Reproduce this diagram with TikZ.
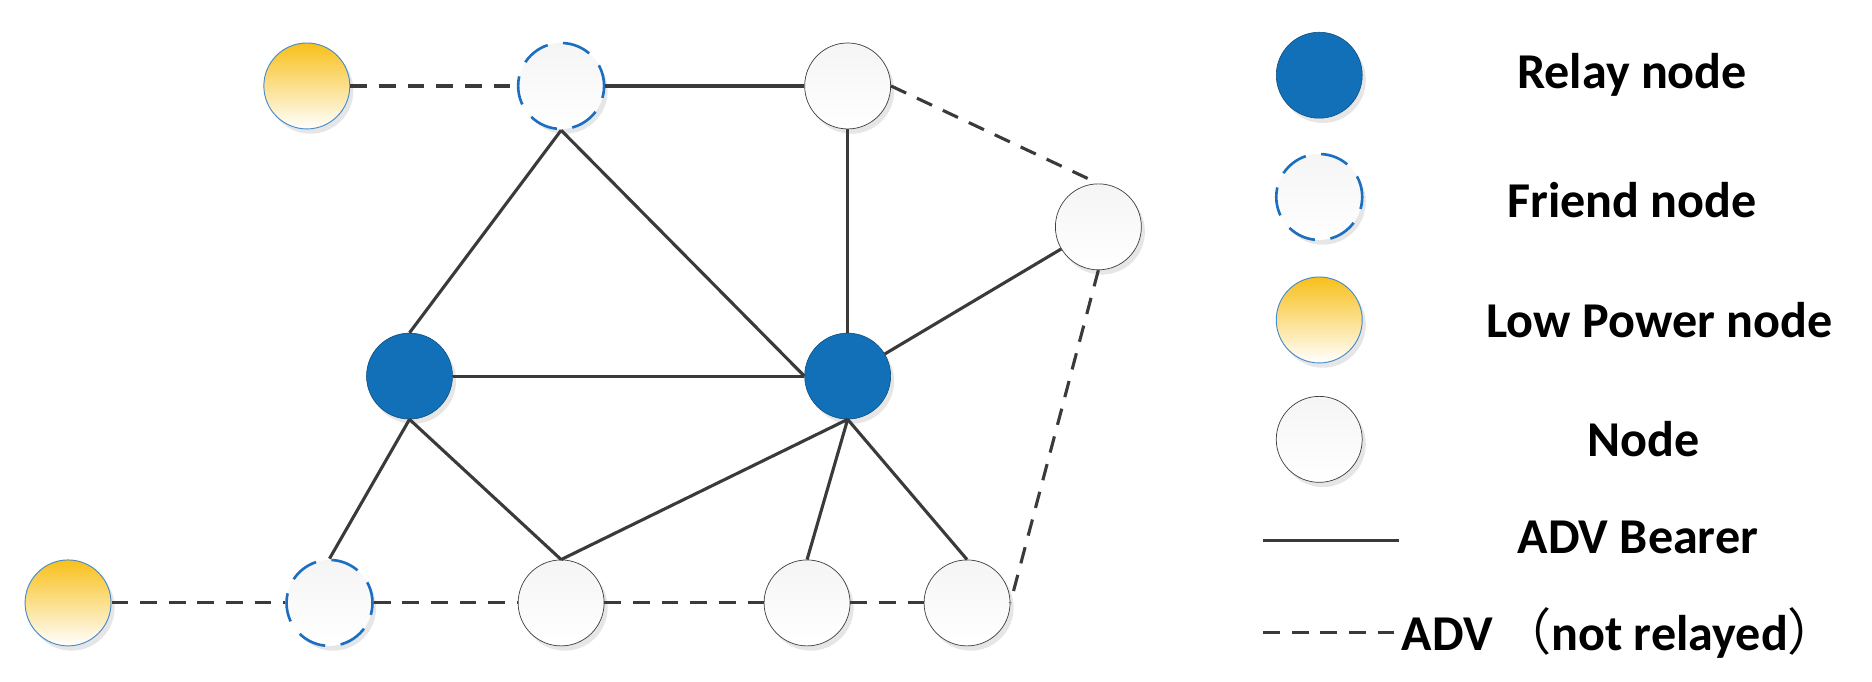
\documentclass[tikz,border=0pt]{standalone}
\usepackage{fontspec}
\setmainfont{Carlito}
\newfontfamily\cjkfont{Noto Sans CJK SC}
\usetikzlibrary{shadows}
\definecolor{relay}{HTML}{1170B8}
\definecolor{lp}{HTML}{F8C01A}
\definecolor{ln}{HTML}{3A3A3A}
\definecolor{fb}{HTML}{1A6FC0}
\begin{document}
\begin{tikzpicture}[x=1pt,y=-1pt,
  base/.style={circle,minimum size=72pt,inner sep=0pt,drop shadow={shadow xshift=3pt,shadow yshift=-4pt,opacity=0.2}},
  relaynode/.style={base,fill=relay,draw=relay!70!black,line width=0.5pt},
  plainnode/.style={base,top color=black!4,bottom color=white,draw=black!75,line width=0.6pt},
  friendnode/.style={base,top color=black!4,bottom color=white,draw=fb,line width=2.2pt,dash pattern=on 24pt off 13pt,dash phase=6pt},
  lpnode/.style={base,top color=lp,bottom color=white,draw=fb!80,line width=0.8pt},
  solidl/.style={draw=ln,line width=2.6pt},
  dashl/.style={draw=ln,line width=2.6pt,dash pattern=on 14pt off 10pt},
  lab/.style={font=\bfseries\fontsize{42}{46}\selectfont,text=black}]
\useasboundingbox (0,0) rectangle (1568,571);
\node[lpnode] (lp1) at (257,72) {};
\node[friendnode] (f1) at (470,72) {};
\node[plainnode] (nt) at (710,72) {};
\node[plainnode] (nr) at (920,190) {};
\node[relaynode] (r1) at (343,315) {};
\node[relaynode] (r2) at (710,315) {};
\node[lpnode] (lp2) at (57,505) {};
\node[friendnode] (f2) at (276,505) {};
\node[plainnode] (b1) at (470,505) {};
\node[plainnode] (b2) at (676,505) {};
\node[plainnode] (b3) at (810,505) {};
\draw[dashl] (lp1) -- (f1);
\draw[solidl] (f1) -- (nt);
\draw[dashl] (nt.east) -- (nr.north);
\draw[solidl] (nt) -- (r2);
\draw[solidl] (f1.south) -- (r1.north);
\draw[solidl] (f1.south) -- (r2.west);
\draw[solidl] (r1) -- (r2);
\draw[solidl] (nr) -- (r2);
\draw[solidl] (r1.south) -- (f2.north);
\draw[solidl] (r1.south) -- (b1.north);
\draw[solidl] (r2.south) -- (b1.north);
\draw[solidl] (r2.south) -- (b2.north);
\draw[solidl] (r2.south) -- (b3.north);
\draw[dashl] (nr.south) -- (b3.east);
\draw[dashl] (lp2) -- (f2);
\draw[dashl] (f2) -- (b1);
\draw[dashl] (b1) -- (b2);
\draw[dashl] (b2) -- (b3);
% legend
\node[relaynode] (lg1) at (1105,63) {};
\node[friendnode] (lg2) at (1105,165) {};
\node[lpnode] (lg3) at (1105,268) {};
\node[plainnode] (lg4) at (1105,368) {};
\node[lab] (t1) at (1367,63) {Relay node};
\node[lab] (t2) at (1367,168) {Friend node};
\node[lab] (t3) at (1390,268) {Low Power node};
\node[lab] (t4) at (1377,368) {Node};
\node[lab] (t5) at (1372,450) {ADV Bearer};
\coordinate (a1) at (1058,453);
\coordinate (a2) at (1172,453);
\draw[solidl] (a1) -- (a2);
\coordinate (d1) at (1058,530);
\node[lab,anchor=west,inner sep=0pt] (t6) at (1174,530) {ADV\,{\cjkfont\mdseries（}not relayed{\cjkfont\mdseries）}};
\draw[dashl] (d1) -- (t6.west);
\end{tikzpicture}
\end{document}
